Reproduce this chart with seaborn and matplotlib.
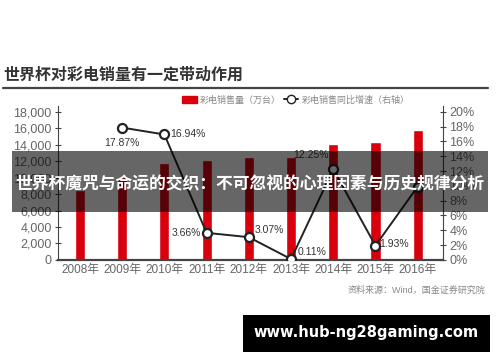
import numpy as np
import pandas as pd
import seaborn as sns
import matplotlib.pyplot as plt
from matplotlib.patches import Patch, Rectangle
from matplotlib.lines import Line2D

years = ['2008年', '2009年', '2010年', '2011年', '2012年', '2013年', '2014年', '2015年', '2016年']
sales = [8500, 10050, 11750, 12180, 12550, 12560, 14100, 14370, 15800]
growth = [np.nan, 17.87, 16.94, 3.66, 3.07, 0.11, 12.25, 1.93, 9.9]
growth_labels = ['', '17.87%', '16.94%', '3.66%', '3.07%', '0.11%', '12.25%', '1.93%', '']
left_ticks = list(range(0, 18001, 2000))
right_ticks = list(range(0, 21, 2))

sns.set_style('white')
plt.rcParams['font.family'] = ['Liberation Sans', 'Noto Sans CJK SC']

df = pd.DataFrame({'year': years, 'sales': sales, 'growth': growth, 'pos': np.arange(len(years))})

fig = plt.figure(figsize=(5, 3.62), dpi=100)
ax = fig.add_axes([0.116, 0.282, 0.77, 0.425])

red = '#d9000d'
sns.barplot(data=df, x='year', y='sales', color=red, width=0.24, ax=ax, saturation=1)
ax.set_xlim(-0.52, 8.6)
ax.set_ylim(0, 18700)
ax.set_yticks(left_ticks)
ax.set_yticklabels([f'{v:,}' for v in left_ticks])
ax.set_xlabel('')
ax.set_ylabel('')

ax2 = ax.twinx()
sns.lineplot(data=df, x='pos', y='growth', ax=ax2, color='#222222', linewidth=1.4,
             marker='o', markersize=6.5, markerfacecolor='white', markeredgecolor='#222222',
             markeredgewidth=1.6)
ax2.set_ylim(0, 20.78)
ax2.set_yticks(right_ticks)
ax2.set_yticklabels([f'{v}%' for v in right_ticks])
ax2.set_ylabel('')
ax2.set_xlabel('')

# label offsets (points) and alignment
offsets = {1: (0, -11, 'center'), 2: (4, 0, 'left'), 3: (-4, 0, 'right'), 4: (4, 5, 'left'),
           5: (5, 5, 'left'), 6: (-3, 10, 'right'), 7: (3, 1, 'left')}
for i, lab in enumerate(growth_labels):
    if not lab:
        continue
    dx, dy, ha = offsets[i]
    ax2.annotate(lab, (df['pos'][i], growth[i]), xytext=(dx, dy), textcoords='offset points',
                 ha=ha, va='center', fontsize=7.5, color='#333333')

for a in (ax, ax2):
    a.spines['top'].set_visible(False)
    a.tick_params(axis='y', direction='inout', length=5, width=0.8, colors='#444444',
                  labelcolor='#666666', labelsize=9, pad=2)
    a.tick_params(axis='x', length=0, labelcolor='#666666', labelsize=8.5, pad=3)
ax.spines['right'].set_visible(False)
ax2.spines['left'].set_visible(False)
ax2.spines['bottom'].set_visible(False)
ax.spines['left'].set_color('#444444')
ax.spines['bottom'].set_color('#444444')
ax.spines['bottom'].set_linewidth(1.6)
ax2.spines['right'].set_color('#444444')

# title and rule
fig.text(0.006, 1 - 75 / 362, '世界杯对彩电销量有一定带动作用', fontsize=11.5, fontweight='bold',
         color='#333333', va='center', ha='left', family=['Noto Sans CJK SC'])
fig.add_artist(Line2D([0.006, 0.976], [1 - 88 / 362] * 2, color='#444444', linewidth=1.6))

handles = [Patch(color=red), Line2D([0], [0], color='#222222', marker='o', markerfacecolor='white',
                                     markeredgecolor='#222222', markersize=6, linewidth=1.4)]
fig.legend(handles, ['彩电销售量（万台）', '彩电销售同比增速（右轴）'], loc='center', ncol=2,
           bbox_to_anchor=(296 / 500, 1 - 100 / 362), frameon=False, fontsize=6.5,
           labelcolor='#888888', handlelength=1.6, handleheight=0.7, columnspacing=0.3, handletextpad=0.4)

fig.text(0.97, 1 - 290 / 362, '资料来源：Wind，国金证券研究院', fontsize=6.5, color='#888888',
         ha='right', va='center')

# overlay banner
fig.add_artist(Rectangle((12 / 500, 1 - 212 / 362), 476 / 500, 61 / 362, transform=fig.transFigure,
                         facecolor='black', alpha=0.6, edgecolor='none'))
fig.text(0.5, 1 - 184 / 362, '世界杯魔咒与命运的交织：不可忽视的心理因素与历史规律分析', fontsize=12.1,
         fontweight='bold', color='white', ha='center', va='center', family=['Noto Sans CJK SC'])

# watermark
fig.add_artist(Rectangle((243 / 500, 1 - 352 / 362), 247 / 500, 37 / 362, transform=fig.transFigure,
                         facecolor='black', edgecolor='none'))
fig.text(366 / 500, 1 - 333 / 362, 'www.hub-ng28gaming.com', fontsize=10.5, fontweight='bold',
         color='white', ha='center', va='center', family=['DejaVu Sans'])

fig.savefig('out.png', dpi=100)
